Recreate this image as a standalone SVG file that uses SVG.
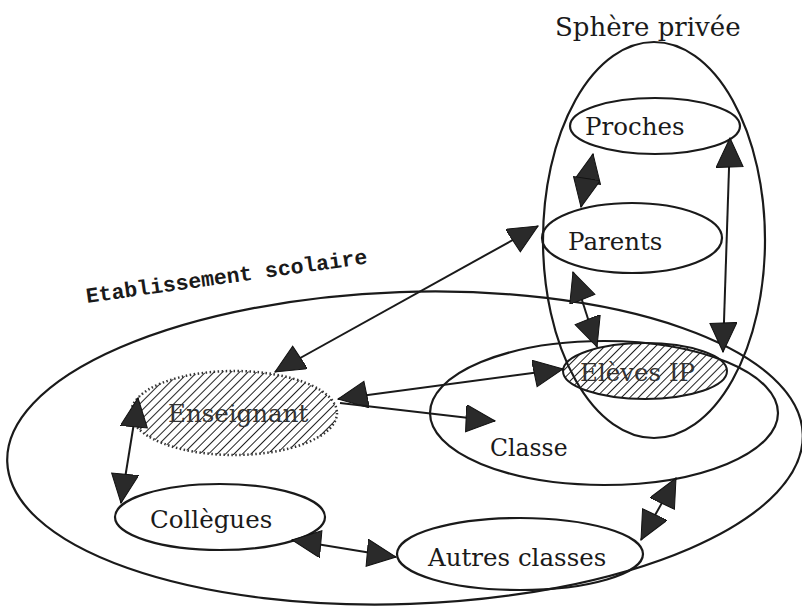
<svg xmlns="http://www.w3.org/2000/svg" width="802" height="612" viewBox="0 0 802 612">
<defs>
<pattern id="hatch" width="6" height="6" patternUnits="userSpaceOnUse" patternTransform="rotate(45)">
<line x1="0" y1="0" x2="0" y2="6" stroke="#222" stroke-width="2"/>
</pattern>
<marker id="ah" markerUnits="userSpaceOnUse" markerWidth="32" markerHeight="28" refX="30" refY="13" orient="auto-start-reverse" viewBox="0 0 32 28">
<path d="M0,0 L30,13 L2,27 Z" fill="#2a2a2a" stroke="#111" stroke-width="1"/>
</marker>
<style>
.el{fill:none;stroke:#1a1a1a;stroke-width:2.2}
.lbl{font-family:"DejaVu Serif","Liberation Serif",serif;font-size:24.5px;fill:#1a1a1a}
.cn{stroke:#1a1a1a;stroke-width:2;fill:none}
</style>
</defs>
<rect width="802" height="612" fill="#ffffff"/>

<g id="etablissement">
<ellipse class="el" cx="405" cy="448" rx="398" ry="156" transform="rotate(-2 405 448)"/>
<text x="87" y="303" transform="rotate(-8 87 303)" style="font-family:'Liberation Mono','DejaVu Sans Mono',monospace;font-size:21.5px;font-weight:bold;fill:#1a1a1a">Etablissement scolaire</text>
</g>

<g id="sphere">
<ellipse class="el" cx="654" cy="240" rx="111" ry="198"/>
<text class="lbl" x="555" y="36" style="font-size:26px">Sphère privée</text>
</g>

<g id="classe">
<ellipse class="el" cx="604" cy="413" rx="174" ry="72"/>
<text class="lbl" x="490" y="456" style="font-size:23.5px">Classe</text>
</g>

<g id="proches">
<ellipse class="el" cx="655" cy="126" rx="85" ry="28"/>
<text class="lbl" x="585" y="135">Proches</text>
</g>

<g id="parents">
<ellipse class="el" cx="632" cy="238" rx="90" ry="35"/>
<text class="lbl" x="568" y="250">Parents</text>
</g>

<g id="eleves">
<ellipse cx="645" cy="371" rx="82" ry="28" fill="url(#hatch)" stroke="#1a1a1a" stroke-width="2"/>
<text class="lbl" x="580" y="381" style="fill:#333">Elèves IP</text>
</g>

<g id="enseignant">
<ellipse cx="234" cy="413" rx="103" ry="42" fill="url(#hatch)" stroke="#333" stroke-width="2.5" stroke-dasharray="1.5 2.5"/>
<text class="lbl" x="168" y="422" style="fill:#333">Enseignant</text>
</g>

<g id="collegues">
<ellipse class="el" cx="220" cy="517" rx="105" ry="33"/>
<text class="lbl" x="150" y="528">Collègues</text>
</g>

<g id="autres">
<ellipse class="el" cx="520" cy="554" rx="123" ry="36"/>
<text class="lbl" x="428" y="566">Autres classes</text>
</g>

<g id="connectors">
<line class="cn" x1="275" y1="372" x2="538" y2="226" marker-start="url(#ah)" marker-end="url(#ah)"/>
<line class="cn" x1="593" y1="154" x2="581" y2="207" marker-start="url(#ah)" marker-end="url(#ah)"/>
<line class="cn" x1="730" y1="138" x2="723" y2="352" marker-start="url(#ah)" marker-end="url(#ah)"/>
<line class="cn" x1="573" y1="272" x2="597" y2="347" marker-start="url(#ah)" marker-end="url(#ah)"/>
<line class="cn" x1="338" y1="399" x2="563" y2="369" marker-start="url(#ah)" marker-end="url(#ah)"/>
<line class="cn" x1="340" y1="403" x2="495" y2="421" marker-end="url(#ah)"/>
<line class="cn" x1="138" y1="398" x2="121" y2="503" marker-start="url(#ah)" marker-end="url(#ah)"/>
<line class="cn" x1="292" y1="540" x2="396" y2="557" marker-start="url(#ah)" marker-end="url(#ah)"/>
<line class="cn" x1="641" y1="540" x2="676" y2="478" marker-start="url(#ah)" marker-end="url(#ah)"/>
</g>
</svg>
